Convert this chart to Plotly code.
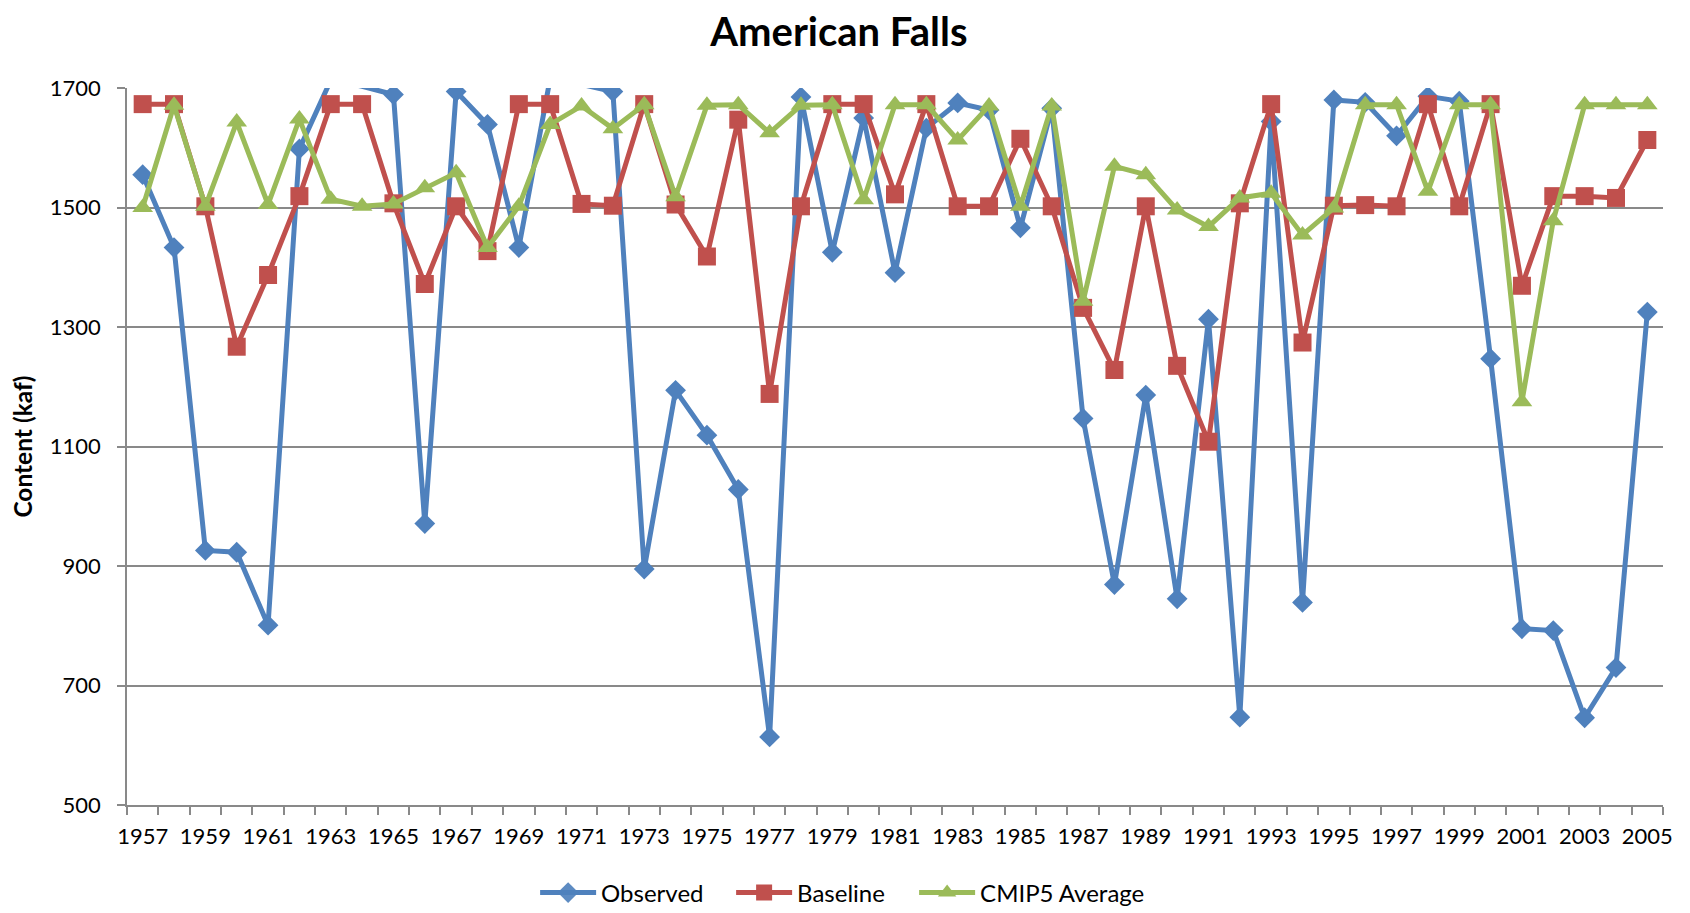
import plotly.graph_objects as go

years = list(range(1957, 2006))

observed = [1555, 1433, 926, 923, 801, 1598, 1713, 1703, 1689, 971,
            1694, 1639, 1433, 1716, 1706, 1694, 895, 1194, 1119, 1028,
            614, 1685, 1425, 1650, 1391, 1633, 1675, 1663, 1466, 1666,
            1147, 869, 1186, 845, 1313, 647, 1644, 839, 1680, 1676,
            1620, 1686, 1678, 1247, 795, 792, 646, 730, 1325]

baseline = [1673, 1673, 1502, 1267, 1387, 1519, 1673, 1673, 1507, 1372,
            1502, 1427, 1673, 1673, 1506, 1503, 1673, 1505, 1418, 1647,
            1188, 1502, 1673, 1673, 1522, 1673, 1502, 1502, 1615, 1502,
            1332, 1228, 1502, 1235, 1108, 1507, 1673, 1274, 1503, 1504,
            1502, 1673, 1502, 1673, 1369, 1519, 1519, 1516, 1613]

cmip5 = [1500, 1671, 1502, 1643, 1505, 1648, 1514, 1502, 1506, 1533,
         1558, 1433, 1502, 1639, 1670, 1632, 1672, 1518, 1671, 1672,
         1625, 1671, 1672, 1513, 1672, 1672, 1613, 1670, 1502, 1670,
         1343, 1569, 1555, 1496, 1468, 1516, 1524, 1454, 1499, 1672,
         1672, 1527, 1672, 1672, 1175, 1478, 1672, 1672, 1672]

label_years = list(range(1957, 2006, 2))
y_ticks = [500, 700, 900, 1100, 1300, 1500, 1700]
Y_MIN, Y_MAX = 500, 1700

FONT = "Lato"
GRID = "#898989"
FIG_H = 930

def vis(vals):
    return [0 if (v > Y_MAX or v < Y_MIN) else 1 for v in vals]

fig = go.Figure()
fig.add_trace(go.Scatter(
    x=years, y=observed, name="Observed", mode="lines+markers", legendwidth=125,
    line=dict(color="#4F81BD", width=5),
    marker=dict(symbol="diamond", size=16, color="#4F81BD", opacity=vis(observed)),
))
fig.add_trace(go.Scatter(
    x=years, y=baseline, name="Baseline", mode="lines+markers", legendwidth=112,
    line=dict(color="#C0504D", width=5),
    marker=dict(symbol="square", size=18, color="#C0504D", opacity=vis(baseline)),
))
fig.add_trace(go.Scatter(
    x=years, y=cmip5, name="CMIP5 Average", mode="lines+markers", legendwidth=165,
    line=dict(color="#9BBB59", width=5),
    marker=dict(symbol="triangle-up", size=18, color="#9BBB59", opacity=vis(cmip5)),
))

fig.update_layout(
    width=1682, height=FIG_H,
    paper_bgcolor="white", plot_bgcolor="white",
    margin=dict(l=119, r=27, t=80, b=FIG_H - 80 - 717),
    font=dict(family=FONT, size=22, color="black"),
    title=dict(text="<b>American Falls</b>", x=0.494, xanchor="center",
               y=1 - 24 / FIG_H, yanchor="middle",
               font=dict(family=FONT, size=40, color="black")),
    showlegend=True,
    legend=dict(orientation="h", x=0.2657, xanchor="left", y=-88 / 717, yanchor="middle",
                font=dict(family=FONT, size=24), itemwidth=56),
)
fig.update_xaxes(
    range=[1956.5, 2005.5], tickmode="array", tickvals=label_years,
    ticktext=[str(y) for y in label_years], ticks="", automargin=False,
    showline=True, linecolor=GRID, linewidth=1.8, showgrid=False, zeroline=False,
    tickfont=dict(family=FONT, size=22), ticklabelstandoff=11,
    minor=dict(ticks="outside", tick0=1956.5, dtick=1, ticklen=8,
               tickcolor=GRID, tickwidth=1.8, showgrid=False),
)
fig.update_yaxes(
    range=[Y_MIN, Y_MAX], tickmode="array", tickvals=y_ticks, automargin=False,
    ticks="outside", ticklen=8, tickcolor=GRID, tickwidth=1.8,
    showline=True, linecolor=GRID, linewidth=1.8,
    showgrid=True, gridcolor=GRID, gridwidth=1.6, zeroline=False,
    tickfont=dict(family=FONT, size=22), ticklabelstandoff=12,
    title=dict(text="<b>Content (kaf)</b>", font=dict(family=FONT, size=24.5), standoff=12),
)

fig.write_html("out.html")
